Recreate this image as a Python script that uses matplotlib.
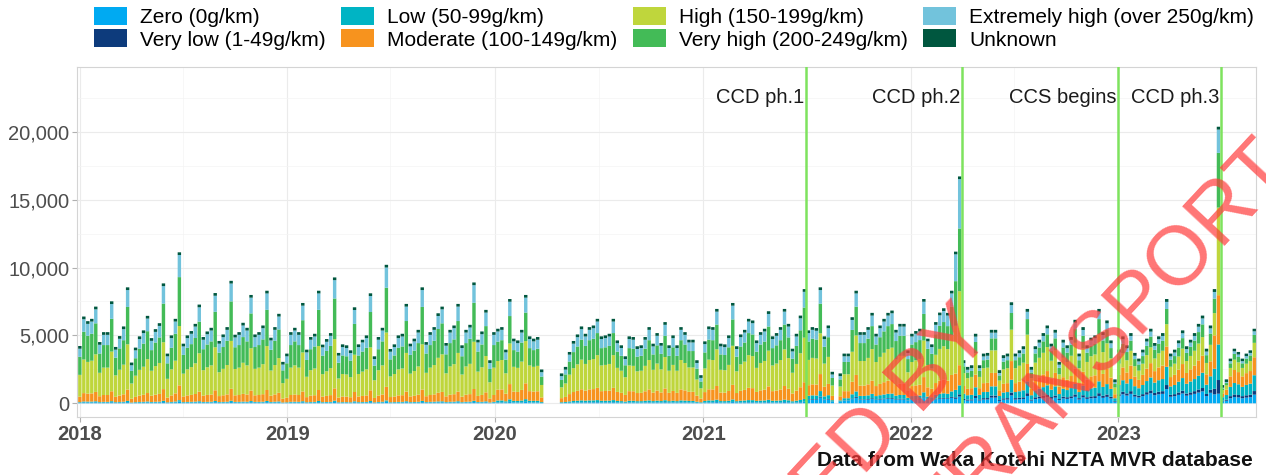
import numpy as np
import pandas as pd
import matplotlib
matplotlib.use('Agg')
import matplotlib.pyplot as plt
import matplotlib.dates as mdates
from matplotlib.patches import Patch
from matplotlib.ticker import FuncFormatter, MultipleLocator

plt.rcParams['font.family'] = ['Liberation Sans', 'DejaVu Sans']

# --- categorie (ordine di impilamento, dal basso verso l'alto) ---
categories = ['Zero (0g/km)', 'Very low (1-49g/km)', 'Low (50-99g/km)',
              'Moderate (100-149g/km)', 'High (150-199g/km)',
              'Very high (200-249g/km)', 'Extremely high (over 250g/km)', 'Unknown']
colours = ['#00aaf2', '#0d3b7c', '#00b4c4', '#f7931e', '#bfd63c',
           '#43bb57', '#72c3dc', '#00573f']

# --- totali settimanali (None = settimana senza dati) ---
first_week = '2018-01-01'
weekly_2018 = [4220, 6390, 6050, 6220, 7120, 4510, 5240, 5240, 7510, 4150,
               4950, 5660, 8540, 3000, 4100, 4930, 5370, 6440, 4800, 5460,
               5900, 8830, 3660, 5000, 6220, 11120, 4390, 5000, 5320, 5850,
               7270, 4880, 5290, 5560, 8120, 4590, 5070, 5610, 9020, 5050,
               5240, 5930, 5560, 7980, 5070, 5240, 5730, 8290, 4830, 5610,
               6590, 3050]
weekly_2019 = [3660, 5240, 5560, 5240, 7390, 3950, 4880, 5120, 8290, 4320,
               4730, 5170, 9270, 3710, 4340, 4270, 3900, 7070, 4340, 4680,
               5000, 8100, 3460, 4880, 5560, 10200, 4000, 4340, 5000, 5120,
               7320, 4390, 4760, 5410, 8540, 4510, 5240, 5610, 6630, 7120,
               4440, 5410, 5730, 7320, 4270, 5410, 5780, 8900, 4680, 5290,
               6880, 3170]
weekly_2020 = [5240, 5490, 5610, 3950, 7680, 4760, 4630, 5410, 7980, 4930,
               4760, 4880, 2490, None, None, None, None, 2200, 2680, 3780,
               4590, 5070, 5660, 5120, 5610, 5730, 6220, 4930, 5000, 5120,
               6220, 4630, 4270, 3460, 4930, 4880, 4200, 4270, 4880, 5610,
               4390, 5170, 4440, 5980, 4270, 5000, 4270, 5610, 5240, 4680,
               4680, 3170, 2070]
weekly_2021 = [4560, 5660, 5610, 6950, 4390, 4340, 5000, 7390, 4200, 5070,
               5410, 6220, 6100, 4630, 5240, 5490, 6780, 4930, 5170, 5610,
               6950, 5850, 4020, 5120, 6460, 8410, 5370, 5610, 5540, 8540,
               4930, 5730, 2320, None, 2200, 3660, 3660, 6340, 8290, 5240,
               5240, 5610, 6660, 5120, 5730, 6220, 6660, 6830, 5410, 5850,
               5850, 3900]
weekly_2022 = [5120, 5320, 5490, 7680, 4760, 4340, 5980, 6680, 7000, 6660,
               8290, 11170, 16710, 3170, 2680, 2800, 5120, 2800, 3660, 3710,
               5410, 5410, 2440, 3540, 3660, 7440, 3660, 3900, 4200, 6950,
               2680, 4200, 4680, 5170, 5730, 4390, 5410, 3050, 4680, 4270,
               4880, 6150, 3660, 5610, 4270, 4830, 5000, 6950, 5240, 6100,
               4630, 1760]
weekly_2023 = [3950, 4930, 4270, 5170, 3710, 3290, 3950, 4760, 5490, 4440,
               4930, 5170, 7680, 3660, 3950, 4630, 5370, 4200, 4680, 5170,
               5850, 6460, 4020, 5730, 8410, 20370, 1340, 1760, 3290, 4020,
               3780, 3290, 3660, 3900, 5490]

# --- composizione per periodo (quote delle 7 classi note) + conteggio Unknown ---
period_starts = ['2018-01-01', '2020-01-01', '2021-07-01', '2022-04-01',
                 '2023-01-01', '2023-07-01']
period_shares = [
    [0.010, 0.001, 0.010, 0.100, 0.400, 0.330, 0.149],
    [0.012, 0.002, 0.025, 0.150, 0.400, 0.270, 0.141],
    [0.050, 0.008, 0.050, 0.150, 0.360, 0.262, 0.120],
    [0.080, 0.030, 0.130, 0.190, 0.320, 0.170, 0.080],
    [0.140, 0.040, 0.180, 0.200, 0.220, 0.150, 0.070],
    [0.120, 0.050, 0.220, 0.250, 0.200, 0.110, 0.050],
]
period_unknown = [200, 200, 200, 210, 210, 190]

# settimane particolari (corsa prima delle fasi CCD)
special_weeks = {
    '2022-03-21': [0.030, 0.010, 0.050, 0.110, 0.320, 0.300, 0.180],
    '2022-03-28': [0.030, 0.010, 0.040, 0.090, 0.330, 0.280, 0.220],
    '2023-06-19': [0.080, 0.050, 0.180, 0.300, 0.200, 0.130, 0.060],
    '2023-06-26': [0.035, 0.050, 0.130, 0.180, 0.320, 0.200, 0.085],
}

policy_dates = ['2021-07-01', '2022-04-01', '2023-01-01', '2023-07-01']
policy_labels = ['CCD ph.1', 'CCD ph.2', 'CCS begins', 'CCD ph.3']

caption = 'Data from Waka Kotahi NZTA MVR database'

# --- costruzione tabella ---
totals = weekly_2018 + weekly_2019 + weekly_2020 + weekly_2021 + weekly_2022 + weekly_2023
weeks = pd.date_range(first_week, periods=len(totals), freq='7D')
totals = np.array([np.nan if v is None else v for v in totals], dtype=float)

starts = pd.to_datetime(period_starts)
seg = np.zeros((len(categories), len(weeks)))
for k, (w, tot) in enumerate(zip(weeks, totals)):
    if np.isnan(tot):
        continue
    p = np.searchsorted(starts, w, side='right') - 1
    shares = special_weeks.get(w.strftime('%Y-%m-%d'), period_shares[p])
    unk = period_unknown[p]
    seg[:7, k] = np.array(shares) / np.sum(shares) * (tot - unk)
    seg[7, k] = unk

# --- figura ---
fig = plt.figure(figsize=(12.66, 4.75), dpi=100)
ax = fig.add_axes([77 / 1266, 1 - 417 / 475, (1256 - 77) / 1266, (417 - 67) / 475])

bottom = np.zeros(len(weeks))
for i, col in enumerate(colours):
    ax.bar(weeks, seg[i], bottom=bottom, width=6.0, color=col, linewidth=0,
           snap=False, zorder=2)
    bottom += seg[i]

for d, lab in zip(pd.to_datetime(policy_dates), policy_labels):
    ax.axvline(d, color='#7ee35e', lw=1.8, zorder=3)
    ax.text(d - pd.Timedelta(days=3), 22550, lab, ha='right', va='center',
            fontsize=14.5, color='#1a1a1a', zorder=4)

ax.set_xlim(pd.Timestamp('2017-12-27'), pd.Timestamp('2023-08-31'))
ax.set_ylim(-1010, 24770)

ax.xaxis.set_major_locator(mdates.YearLocator())
ax.xaxis.set_major_formatter(mdates.DateFormatter('%Y'))
ax.xaxis.set_minor_locator(mdates.MonthLocator(bymonth=7))
ax.yaxis.set_major_locator(MultipleLocator(5000))
ax.yaxis.set_minor_locator(MultipleLocator(2500))
ax.yaxis.set_major_formatter(FuncFormatter(lambda v, _: f'{int(v):,}'))

ax.grid(which='major', color='#ebebeb', lw=0.8, zorder=0)
ax.grid(which='minor', color='#f4f4f4', lw=0.5, zorder=0)
ax.set_axisbelow(True)
for s in ax.spines.values():
    s.set_color('#d4d4d4')
    s.set_linewidth(0.8)

ax.tick_params(axis='both', which='major', length=3.5, width=0.8, color='#b0b0b0',
               labelcolor='#4d4d4d', labelsize=14.5, pad=2)
ax.tick_params(axis='both', which='minor', length=0)
for lab in ax.get_xticklabels():
    lab.set_fontweight('bold')

handles = [Patch(facecolor=c, edgecolor='none') for c in colours]
fig.legend(handles, categories, ncol=4, loc='upper left',
           bbox_to_anchor=(90 / 1266, 1 - 3 / 475), frameon=False, fontsize=15,
           handlelength=1.6, handleheight=0.95, handletextpad=0.62,
           columnspacing=0.72, labelspacing=0.1, borderaxespad=0.1, borderpad=0.1)

fig.text(1253 / 1266, 1 - 460 / 475, caption, ha='right', va='center',
         fontsize=15, fontweight='bold', color='#111111')

# filigrana del documento rilasciato
wm = dict(color='#ff3b3b', alpha=0.7, fontsize=60, rotation=47,
          rotation_mode='anchor', va='baseline', ha='right', zorder=10)
fig.text(995 / 1266, 1 - 335 / 475, 'RELEASED BY', **wm)
fig.text(1295 / 1266, 1 - 170 / 475, 'MINISTRY OF TRANSPORT', **wm)

fig.savefig('out.png', dpi=100)
